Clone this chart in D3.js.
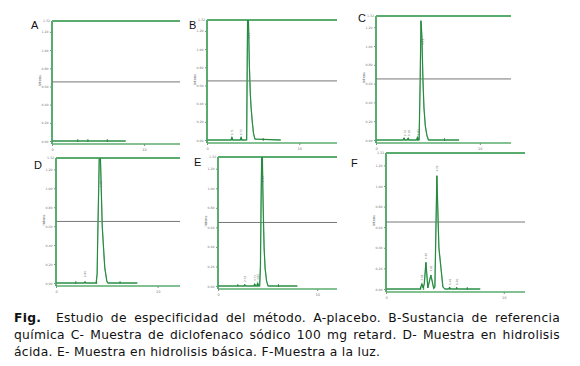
<!DOCTYPE html>
<html>
<head>
<meta charset="utf-8">
<script src="https://cdn.jsdelivr.net/npm/d3@7"></script>
<style>
  body { margin: 0; background: #fff; }
  #fig { position: relative; width: 580px; height: 366px; }
  #caption {
    position: absolute; left: 14px; top: 310px; width: 546px;
    font-family: Verdana, "DejaVu Sans", sans-serif; font-size: 12.3px;
    letter-spacing: 0.3px; line-height: 17px; color: #111;
  }
  #caption div { white-space: nowrap; }
  #caption .full { text-align: justify; text-align-last: justify; white-space: normal; }
</style>
</head>
<body>
<div id="fig">
  <svg id="chart" width="580" height="305"></svg>
  <div id="caption">
    <div class="full"><b>Fig.</b>&nbsp; Estudio de especificidad del método. A-placebo. B-Sustancia de referencia</div>
    <div class="full">química C- Muestra de diclofenaco sódico 100 mg retard. D- Muestra en hidrolisis</div>
    <div>ácida. E- Muestra en hidrolisis básica. F-Muestra a la luz.</div>
  </div>
</div>
<script>
// Chromatograms, one per sample (time in min, signal in AU)
const panelNames = ['A', 'B', 'C', 'D', 'E', 'F'];
const xMax = [13.9, 14.1, 13.0, 12.2, 12.0, 11.8];
const xTicks = [0, 10];
const yMax = 1.32;
const yTicks = [0, 0.2, 0.4, 0.6, 0.8, 1.0, 1.2];
const refLevel = 0.65;

const timeA = [0, 8];
const absA = [0, 0];
const markA = [2.8, 3.9, 6.0];
const tagA = [];

const timeB = [0, 2.6, 2.7, 2.8, 3.6, 3.7, 3.8, 4.3, 4.36, 4.42, 4.5, 4.6, 4.7, 4.78, 4.92, 5.05, 5.2, 8];
const absB = [0, 0, 0.03, 0, 0, 0.03, 0, 0, 0.8, 1.6, 1.3, 0.8, 0.5, 0.36, 0.19, 0.07, 0.01, 0];
const markB = [2.7, 3.7, 6.1];
const tagB = [[2.7, 0.04, '2.71'], [3.7, 0.04, '3.72'], [4.55, 1.1, '4.41']];

const timeC = [0, 2.6, 2.7, 2.8, 3.0, 3.1, 3.2, 3.9, 4.0, 4.08, 4.15, 4.25, 4.33, 4.42, 4.52, 4.62, 4.75, 4.9, 5.05, 8];
const absC = [0, 0, 0.02, 0, 0, 0.02, 0, 0, 0.03, 0, 0, 0.6, 1.27, 1.1, 0.64, 0.34, 0.15, 0.05, 0, 0];
const markC = [2.7, 3.1, 4.0, 6.6];
const tagC = [[2.75, 0.03, '2.72'], [3.15, 0.03, '3.10'], [4.0, 0.04, '4.01'], [4.5, 1.0, '4.33']];

const timeD = [0, 2.75, 2.85, 2.95, 3.95, 4.05, 4.1, 4.2, 4.3, 4.4, 4.55, 4.7, 4.8, 5.0, 5.1, 8];
const absD = [0, 0, 0.01, 0, 0, 0.1, 0.45, 1.0, 1.6, 1.2, 0.6, 0.33, 0.16, 0.02, 0, 0];
const markD = [1.95, 2.85, 4.0, 6.3];
const tagD = [[2.85, 0.05, '2.85'], [4.4, 1.0, '4.30']];

const timeE = [0, 1.9, 2.0, 2.1, 2.6, 2.7, 2.8, 3.6, 3.7, 3.8, 3.9, 4.0, 4.1, 4.2, 4.28, 4.35, 4.44, 4.52, 4.6, 4.65, 4.75, 4.9, 5.05, 8];
const absE = [0, 0, 0.005, 0, 0, 0.01, 0, 0, 0.02, 0, 0, 0.03, 0, 0, 0.2, 0.9, 1.6, 1.0, 0.6, 0.39, 0.18, 0.05, 0, 0];
const markE = [2.0, 2.7, 3.7, 4.0, 6.1];
const tagE = [[2.7, 0.03, '2.70'], [3.7, 0.04, '3.71'], [4.0, 0.05, '4.02'], [4.5, 1.05, '4.44']];

const timeF = [0, 2.9, 3.05, 3.15, 3.25, 3.39, 3.55, 3.81, 4.05, 4.15, 4.32, 4.43, 4.49, 4.66, 4.83, 5.0, 5.3, 5.4, 5.5, 5.9, 6.0, 6.1, 8];
const absF = [0, 0, 0.05, 0.01, 0.05, 0.26, 0.01, 0.135, 0.005, 0.02, 1.10, 0.64, 0.40, 0.21, 0.02, 0, 0, 0.015, 0, 0, 0.01, 0, 0];
const markF = [2.95, 3.2, 5.4, 6.0, 6.9];
const tagF = [[3.05, 0.07, '3.05'], [3.39, 0.28, '3.39'], [3.81, 0.16, '3.81'], [4.32, 1.13, '4.32'], [5.4, 0.03, '5.40'], [6.0, 0.03, '6.01']];

const times = [timeA, timeB, timeC, timeD, timeE, timeF];
const signals = [absA, absB, absC, absD, absE, absF];
const marks = [markA, markB, markC, markD, markE, markF];
const tags = [tagA, tagB, tagC, tagD, tagE, tagF];

// Where each panel sits in the picture
const layout = [
  {left: 52, right: 180, top: 21, bottom: 144, lx: 31, ly: 29},
  {left: 207, right: 337, top: 20, bottom: 143, lx: 189, ly: 29},
  {left: 376, right: 511, top: 16, bottom: 143, lx: 358, ly: 22},
  {left: 56, right: 180, top: 158, bottom: 286, lx: 34, ly: 169},
  {left: 218, right: 337, top: 157, bottom: 289, lx: 194, ly: 166},
  {left: 386, right: 525, top: 153, bottom: 292, lx: 351, ly: 167}
];

const axisGreen = '#5aac6e';
const traceGreen = '#1f7f3a';
const tinyFont = 'DejaVu Sans, sans-serif';
const svg = d3.select('#chart');

panelNames.forEach((name, i) => {
  const L = layout[i];
  const x = d3.scaleLinear().domain([0, xMax[i]]).range([L.left, L.right]);
  const y = d3.scaleLinear().domain([0, yMax]).range([L.bottom - 3, L.top]);
  const g = svg.append('g');

  g.append('clipPath').attr('id', 'clip' + i)
    .append('rect')
    .attr('x', L.left).attr('y', L.top)
    .attr('width', L.right - L.left).attr('height', L.bottom - L.top + 4);

  // panel letter
  g.append('text')
    .attr('x', L.lx).attr('y', L.ly)
    .attr('font-family', 'Liberation Sans, Arial, sans-serif')
    .attr('font-size', '11px')
    .attr('fill', '#111')
    .text(name);

  // y axis ticks + labels
  g.append('g')
    .attr('transform', `translate(${L.left},0)`)
    .call(d3.axisLeft(y).tickValues(yTicks).tickSize(2).tickPadding(1.5).tickFormat(d3.format('.2f')))
    .call(a => a.select('.domain').remove())
    .call(a => a.selectAll('line').attr('stroke', '#888'))
    .call(a => a.selectAll('text').attr('font-size', '3.2px').attr('fill', '#777')
      .attr('font-family', tinyFont));

  g.append('text')
    .attr('x', L.left - 2).attr('y', L.top + 1)
    .attr('text-anchor', 'end')
    .attr('font-size', '3.2px').attr('fill', '#777')
    .attr('font-family', tinyFont)
    .text(d3.format('.2f')(yMax));

  g.append('text')
    .attr('transform', `translate(${L.left - 11},${(L.top + L.bottom) / 2 - 2}) rotate(-90)`)
    .attr('text-anchor', 'middle')
    .attr('font-size', '3.5px').attr('fill', '#666')
    .attr('font-family', tinyFont)
    .text('Intens');

  // x axis
  g.append('g')
    .attr('transform', `translate(0,${L.bottom})`)
    .call(d3.axisBottom(x).tickValues(xTicks).tickSize(2))
    .call(a => a.select('.domain').remove())
    .call(a => a.selectAll('line').attr('stroke', '#888'))
    .call(a => a.selectAll('text').attr('font-size', '3.5px').attr('fill', '#777')
      .attr('font-family', tinyFont));

  // frame lines
  g.append('line')
    .attr('x1', L.left).attr('x2', L.right)
    .attr('y1', L.top).attr('y2', L.top)
    .attr('stroke', axisGreen).attr('stroke-width', 2);
  g.append('line')
    .attr('x1', L.left).attr('x2', L.right)
    .attr('y1', L.bottom).attr('y2', L.bottom)
    .attr('stroke', axisGreen).attr('stroke-width', 1.3);
  g.append('line')
    .attr('x1', L.left).attr('x2', L.left)
    .attr('y1', L.top).attr('y2', L.bottom)
    .attr('stroke', axisGreen).attr('stroke-width', 2);

  // reference level
  g.append('line')
    .attr('x1', x(0)).attr('x2', L.right)
    .attr('y1', y(refLevel)).attr('y2', y(refLevel))
    .attr('stroke', '#777').attr('stroke-width', 1);

  // trace
  const pts = times[i].map((t, k) => [t, signals[i][k]]);
  const line = d3.line().x(d => x(d[0])).y(d => y(d[1]));
  const body = g.append('g').attr('clip-path', `url(#clip${i})`);
  body.append('path')
    .datum(pts)
    .attr('d', line)
    .attr('fill', 'none')
    .attr('stroke', '#6fbf82')
    .attr('stroke-width', 1.3);
  body.append('path')
    .datum(pts)
    .attr('d', line)
    .attr('fill', 'none')
    .attr('stroke', traceGreen)
    .attr('stroke-width', 0.9)
    .attr('stroke-linejoin', 'round');

  // integration marks
  body.selectAll('.mark')
    .data(marks[i])
    .join('line')
    .attr('x1', d => x(d)).attr('x2', d => x(d))
    .attr('y1', y(0) + 1).attr('y2', y(0) - 2)
    .attr('stroke', traceGreen).attr('stroke-width', 0.8);

  // peak tags, written upright like the integrator does
  g.selectAll('.tag')
    .data(tags[i])
    .join('text')
    .attr('transform', d => `translate(${x(d[0]) + 1},${y(d[1]) - 1}) rotate(-90)`)
    .attr('font-size', '2.8px')
    .attr('fill', '#666')
    .attr('font-family', tinyFont)
    .text(d => d[2]);
});
</script>
</body>
</html>
